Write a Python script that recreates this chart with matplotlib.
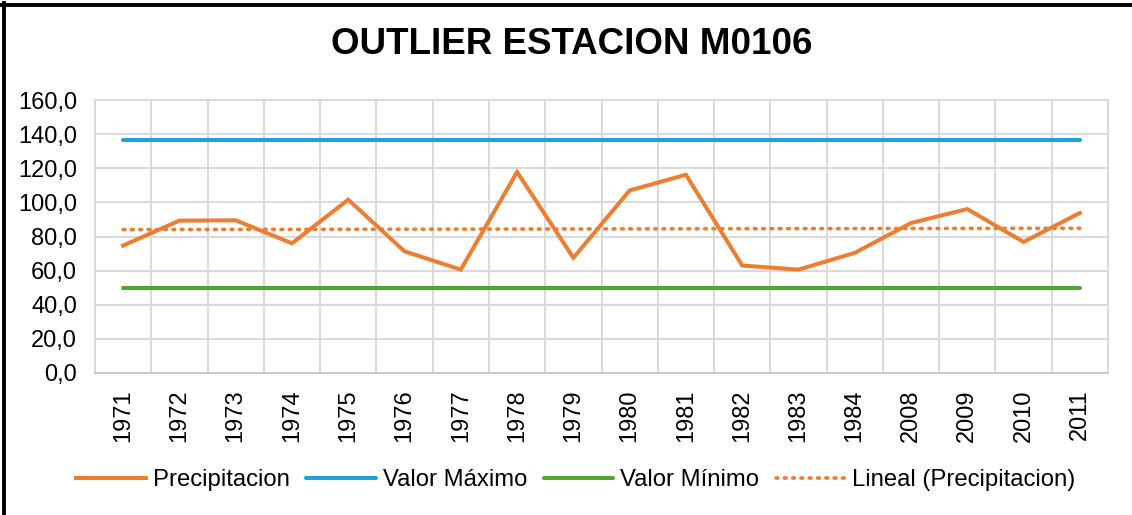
import numpy as np
import matplotlib
matplotlib.use("Agg")
import matplotlib.pyplot as plt
from matplotlib.lines import Line2D

plt.rcParams['font.family'] = ['Liberation Sans', 'DejaVu Sans']

# Data
years = ["1971", "1972", "1973", "1974", "1975", "1976", "1977", "1978", "1979",
         "1980", "1981", "1982", "1983", "1984", "2008", "2009", "2010", "2011"]
precipitacion = [74.7, 89.3, 89.5, 76.0, 101.6, 71.3, 60.6, 117.8, 67.5,
                 107.0, 116.2, 63.0, 60.6, 70.4, 87.9, 96.1, 76.8, 93.8]
valor_maximo = 136.3
valor_minimo = 50.0
y_ticks = [0, 20, 40, 60, 80, 100, 120, 140, 160]

W, H = 1132, 515
fig = plt.figure(figsize=(W / 100, H / 100), dpi=100)
ax = fig.add_axes([95 / W, 1 - 373 / H, (1108 - 95) / W, (373 - 100) / H])

x = np.arange(len(years))
orange = "#ED7D31"
blue = "#1EA1DC"
green = "#4EA72E"
grid_c = "#D9D9D9"

ax.plot(x, precipitacion, color=orange, lw=2.9, solid_joinstyle='miter',
        label="Precipitacion", zorder=4)
ax.plot(x, [valor_maximo] * len(x), color=blue, lw=2.9, label="Valor Máximo",
        solid_capstyle='round', zorder=3)
ax.plot(x, [valor_minimo] * len(x), color=green, lw=2.9, label="Valor Mínimo",
        solid_capstyle='round', zorder=3)

# Linear trend of precipitation over the category index
coef = np.polyfit(x + 1, precipitacion, 1)
trend = np.polyval(coef, x + 1)
ax.plot(x, trend, color=orange, lw=2.6, linestyle=(0, (0.5, 1.8)),
        dash_capstyle='round', label="Lineal (Precipitacion)", zorder=3)

ax.set_xlim(-0.5, len(years) - 0.5)
ax.set_ylim(0, 160)
ax.set_yticks(y_ticks)
ax.set_yticklabels([f"{v:.1f}".replace(".", ",") for v in y_ticks])
ax.set_xticks(x)
ax.set_xticklabels(years, rotation=90)
ax.set_xticks(np.arange(-0.5, len(years), 1), minor=True)

ax.grid(True, which='major', axis='y', color=grid_c, lw=1.4)
ax.grid(True, which='minor', axis='x', color=grid_c, lw=1.4)
ax.grid(False, which='major', axis='x')
ax.set_axisbelow(True)
for s in ax.spines.values():
    s.set_color(grid_c)
    s.set_linewidth(1.4)
ax.spines['bottom'].set_color("#C8C8C8")

ax.tick_params(axis='both', which='both', length=0, labelsize=17, colors='black')
ax.tick_params(axis='y', pad=13)
ax.tick_params(axis='x', pad=12)

fig.text(572 / W, 1 - 45 / H, "OUTLIER ESTACION M0106", ha='center', va='center',
         fontsize=26.5, fontweight='bold')

leg = fig.legend(loc='center', bbox_to_anchor=(576 / W, 1 - 480 / H), ncol=4,
                 frameon=False, fontsize=17.2, handlelength=2.9, handletextpad=0.3,
                 columnspacing=0.7)

# Frame lines along the top and left edges
fig.add_artist(Line2D([2 / W, 1.0], [1 - 4.5 / H, 1 - 4.5 / H],
                      transform=fig.transFigure, color='black', lw=2.8))
fig.add_artist(Line2D([4 / W, 4 / W], [0.0, 1 - 3 / H],
                      transform=fig.transFigure, color='black', lw=2.8))

fig.savefig("out.png", dpi=100)
